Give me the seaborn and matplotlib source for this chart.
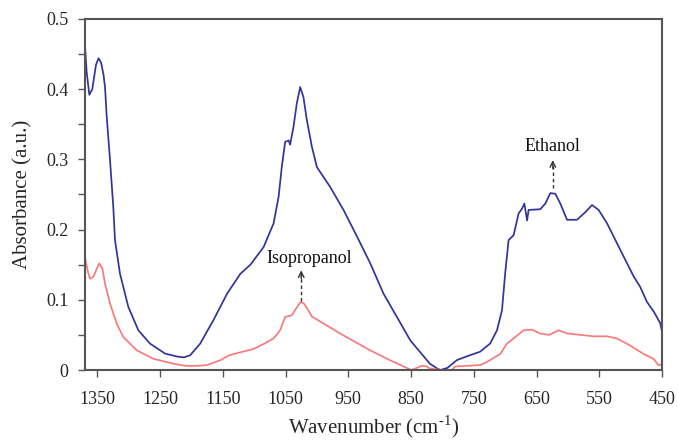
import matplotlib
matplotlib.use("Agg")
import matplotlib.pyplot as plt
import seaborn as sns
import pandas as pd
from matplotlib.ticker import MultipleLocator, FuncFormatter

# ---- data ----
wn_blue = [1369.6, 1367, 1362.7, 1358, 1352, 1348, 1344, 1340, 1337.7, 1335, 1329.7,
           1324.5, 1321.8, 1313.8, 1300.6, 1284.6, 1266, 1242, 1222, 1212, 1202, 1186,
           1165, 1143, 1122, 1106, 1085, 1069, 1061, 1056, 1050.6, 1045, 1042.7, 1037.4,
           1032, 1026.7, 1021.5, 1016, 1008, 1000, 979, 957.6, 936, 915, 894, 872.5, 851,
           835, 820, 808, 803, 792, 777, 761, 740, 724, 713, 705, 700, 694.5, 686.5,
           678.5, 673, 669.4, 665, 662.6, 644, 636, 628, 620, 612, 601.4, 585.4, 572,
           561.5, 551, 537.6, 516.4, 495, 484.5, 474, 463, 453, 450]
abs_blue = [0.462, 0.425, 0.392, 0.400, 0.435, 0.444, 0.438, 0.420, 0.403, 0.361, 0.299,
            0.232, 0.185, 0.137, 0.090, 0.0566, 0.0376, 0.0234, 0.019, 0.018, 0.021, 0.0376,
            0.0709, 0.109, 0.137, 0.150, 0.175, 0.209, 0.247, 0.289, 0.325, 0.327, 0.321, 0.346,
            0.380, 0.403, 0.389, 0.356, 0.318, 0.289, 0.261, 0.228, 0.190, 0.152, 0.109, 0.0756, 0.042,
            0.025, 0.009, 0.002, 0.0, 0.003, 0.014, 0.0195, 0.026, 0.0376, 0.0566, 0.085, 0.137, 0.185, 0.192,
            0.223, 0.230, 0.237, 0.213, 0.228, 0.229, 0.237, 0.252, 0.251, 0.237, 0.214, 0.214, 0.225,
            0.235, 0.228, 0.209, 0.171, 0.133, 0.118, 0.097, 0.083, 0.067, 0.055]

wn_red = [1369.6, 1365, 1361.6, 1356, 1350, 1346.8, 1342, 1337.7, 1329.7, 1319, 1308.5,
          1287, 1260.7, 1228.8, 1210, 1190, 1175, 1154, 1140, 1101, 1085, 1069, 1058.6,
          1050.6, 1040, 1035, 1026, 1021, 1013.5, 1008, 1000, 963, 915, 883, 857, 850, 846,
          833, 825, 820, 800, 785, 779.5, 740, 729, 707.7, 697, 686.5, 670.6, 657, 644, 630,
          614.7, 601, 575, 559, 538, 522, 501, 479.6, 463.6, 455.6, 450]
abs_red = [0.161, 0.140, 0.130, 0.133, 0.146, 0.152, 0.145, 0.123, 0.0947, 0.066, 0.047,
           0.028, 0.016, 0.009, 0.006, 0.006, 0.007, 0.0138, 0.021, 0.030, 0.037, 0.045, 0.0566,
           0.0756, 0.078, 0.085, 0.097, 0.095, 0.085, 0.076, 0.072, 0.052, 0.028, 0.0138, 0.003, 0.0, 0.001,
           0.006, 0.005, 0.002, 0.0, 0.0, 0.005, 0.007, 0.0114, 0.023, 0.0376, 0.045, 0.0566, 0.0576, 0.052, 0.050,
           0.0566, 0.052, 0.0495, 0.048, 0.048, 0.045, 0.035, 0.023, 0.016, 0.0067, 0.008]

x_ticks = [1350, 1250, 1150, 1050, 950, 850, 750, 650, 550, 450]
annotations = [("Isopropanol", 1025, 0.099, 0.142, 1013, 0.159),
               ("Ethanol", 624, 0.259, 0.299, 624, 0.318)]

df_blue = pd.DataFrame({"wn": wn_blue, "abs": abs_blue})
df_red = pd.DataFrame({"wn": wn_red, "abs": abs_red})

sns.set_style("ticks")
plt.rcParams["font.family"] = ["Liberation Serif", "DejaVu Serif"]
plt.rcParams["mathtext.fontset"] = "custom"
plt.rcParams["mathtext.rm"] = "Liberation Serif"

fig = plt.figure(figsize=(6.78, 4.40), dpi=100)
ax = fig.add_axes([85/678, 1-370/440, (662-85)/678, (370-19)/440])

sns.lineplot(data=df_blue, x="wn", y="abs", sort=False, ax=ax, color="#33339a", lw=1.25)
sns.lineplot(data=df_red, x="wn", y="abs", sort=False, ax=ax, color="#f87a7a", lw=1.25)

ax.set_xlim(1369.6, 450)
ax.set_ylim(0, 0.5)
ax.set_xticks(x_ticks)
ax.yaxis.set_major_locator(MultipleLocator(0.1))
ax.yaxis.set_minor_locator(MultipleLocator(0.05))
ax.yaxis.set_major_formatter(FuncFormatter(lambda v, p: "0" if abs(v) < 1e-9 else f"{v:.1f}"))
ax.tick_params(axis="both", which="major", direction="out", length=5, width=1.0,
               color="#555555", labelsize=13)
ax.tick_params(axis="x", which="major", pad=10)
ax.tick_params(axis="y", which="major", pad=7)
ax.tick_params(axis="y", which="minor", direction="out", length=5, width=1.0, color="#555555")
for s in ax.spines.values():
    s.set_color("#555555")
    s.set_linewidth(1.5)

ax.set_xlabel("Wavenumber (cm$^{\\mathregular{\u2010}\\mathregular{1}}$)", fontsize=15, labelpad=4)
ax.set_ylabel("Absorbance (a.u.)", fontsize=15, labelpad=10)

for label, xa, y0, y1, xt, yt in annotations:
    ax.plot([xa, xa], [y0, y1 - 0.004], ls=(0, (2.5, 2)), color="#333333", lw=1.0)
    ax.annotate("", xy=(xa, y1), xytext=(xa, y1 - 0.012),
                arrowprops=dict(arrowstyle="->", color="#333333", lw=1.0,
                                shrinkA=0, shrinkB=0, mutation_scale=10))
    ax.text(xt, yt, label, ha="center", va="center", fontsize=13, color="#111111")

fig.savefig("out.png", dpi=100)
